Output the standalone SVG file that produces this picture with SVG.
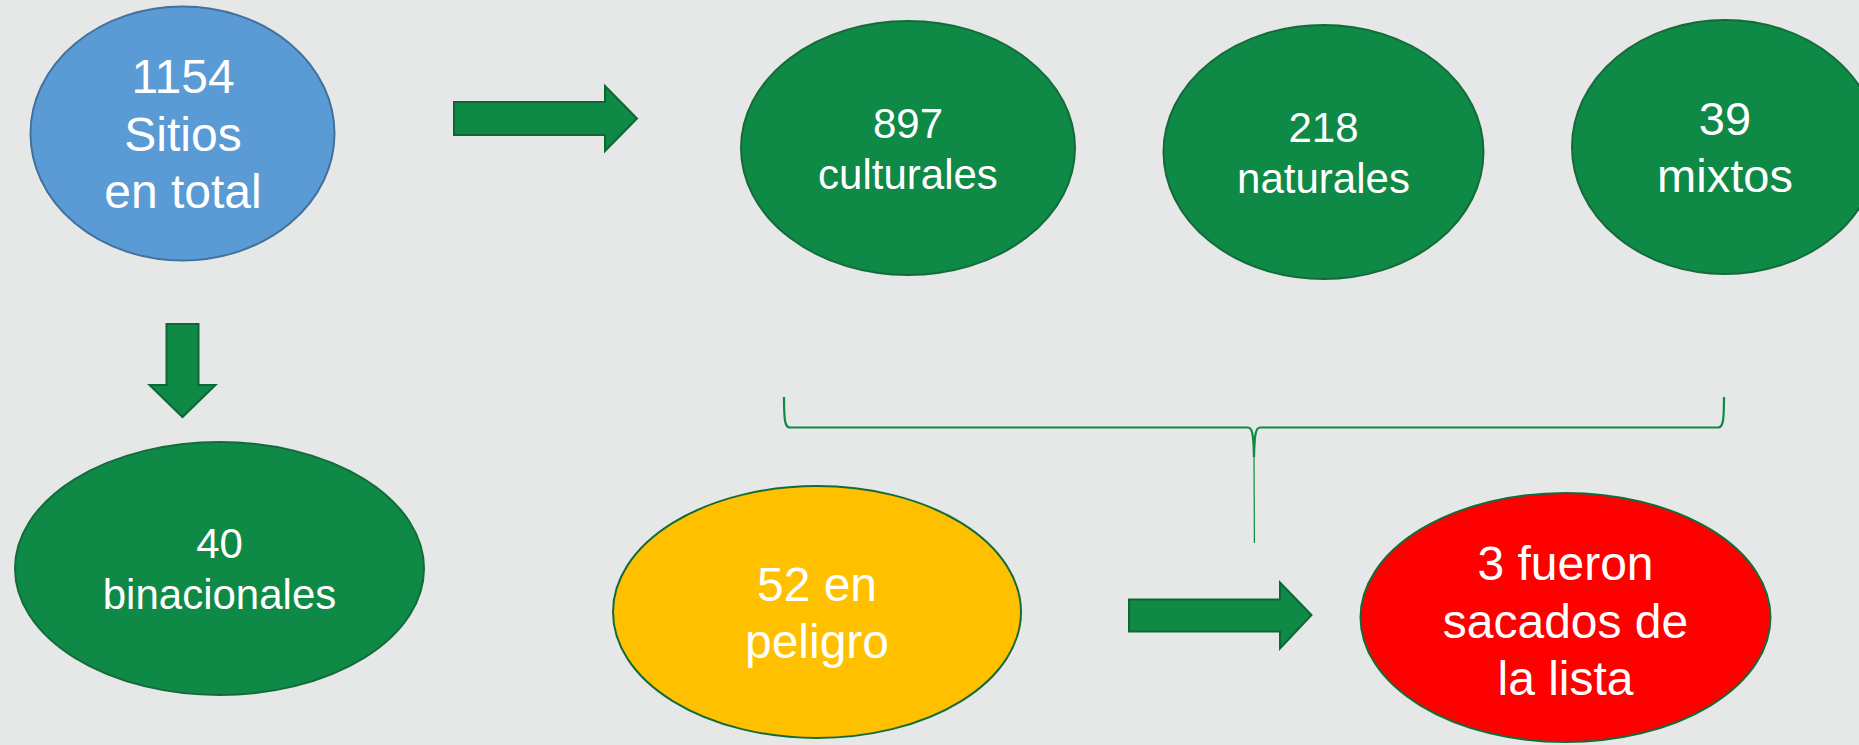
<svg xmlns="http://www.w3.org/2000/svg" width="1859" height="745" viewBox="0 0 1859 745">
<style>
.t{font-family:"Liberation Sans",Arial,sans-serif;fill:#ffffff;text-anchor:middle}
.g{fill:#0f8946;stroke:#146b3a;stroke-width:2}
.arr{fill:#0f8946;stroke:#0d6633;stroke-width:2}
.br{fill:none;stroke:#0f8946;stroke-width:2.2}
</style>
<rect x="0" y="0" width="1859" height="745" fill="#e6e8e7"/>
<g id="connectors">
<polygon class="arr" points="454,102 605,102 605,86 637,118.5 605,151 605,135 454,135"/>
<polygon class="arr" points="166.5,324 198.5,324 198.5,385 215.5,385 182.5,417 149.5,385 166.5,385"/>
<polygon class="arr" points="1129,599.5 1280,599.5 1280,582.5 1311.5,615 1280,648.5 1280,631.5 1129,631.5"/>
<path class="br" d="M784,397 C784,421 785,427.5 790,427.5 L1248,427.5 C1252,427.5 1253.5,433 1254,457"/>
<path class="br" d="M1724,397 C1724,421 1723,427.5 1718,427.5 L1260,427.5 C1256,427.5 1254.5,433 1254,457"/>
<path d="M1254,455 L1254.4,543" fill="none" stroke="#0f8946" stroke-width="1.2"/>
</g>
<g id="n1154">
<ellipse cx="182.5" cy="133.5" rx="152" ry="127" fill="#5b9bd5" stroke="#41719c" stroke-width="2"/>
<text class="t" font-size="48" x="183" y="93">1154</text>
<text class="t" font-size="48" x="183" y="150.5">Sitios</text>
<text class="t" font-size="48" x="183" y="208">en total</text>
</g>
<g id="n897">
<ellipse class="g" cx="908" cy="148" rx="167" ry="127"/>
<text class="t" font-size="42" x="908" y="138">897</text>
<text class="t" font-size="42" x="908" y="188.5">culturales</text>
</g>
<g id="n218">
<ellipse class="g" cx="1323.5" cy="152" rx="160" ry="127"/>
<text class="t" font-size="42" x="1323.5" y="141.5">218</text>
<text class="t" font-size="42" x="1323.5" y="192.5">naturales</text>
</g>
<g id="n39">
<ellipse class="g" cx="1725" cy="147" rx="153" ry="127"/>
<text class="t" font-size="47" x="1725" y="135">39</text>
<text class="t" font-size="47" x="1725" y="191.5">mixtos</text>
</g>
<g id="n40">
<ellipse class="g" cx="219.5" cy="568.5" rx="204.5" ry="126.5"/>
<text class="t" font-size="42" x="219.5" y="558">40</text>
<text class="t" font-size="42" x="219.5" y="608.5">binacionales</text>
</g>
<g id="n52">
<ellipse cx="817" cy="612" rx="204" ry="126" fill="#ffc000" stroke="#146b3a" stroke-width="2"/>
<text class="t" font-size="48" x="817" y="600.5">52 en</text>
<text class="t" font-size="48" x="817" y="658">peligro</text>
</g>
<g id="n3">
<ellipse cx="1565.5" cy="617.5" rx="205" ry="124.5" fill="#ff0000" stroke="#146b3a" stroke-width="2"/>
<text class="t" font-size="48" x="1565.5" y="580">3 fueron</text>
<text class="t" font-size="48" x="1565.5" y="637.5">sacados de</text>
<text class="t" font-size="48" x="1565.5" y="695">la lista</text>
</g>
</svg>
